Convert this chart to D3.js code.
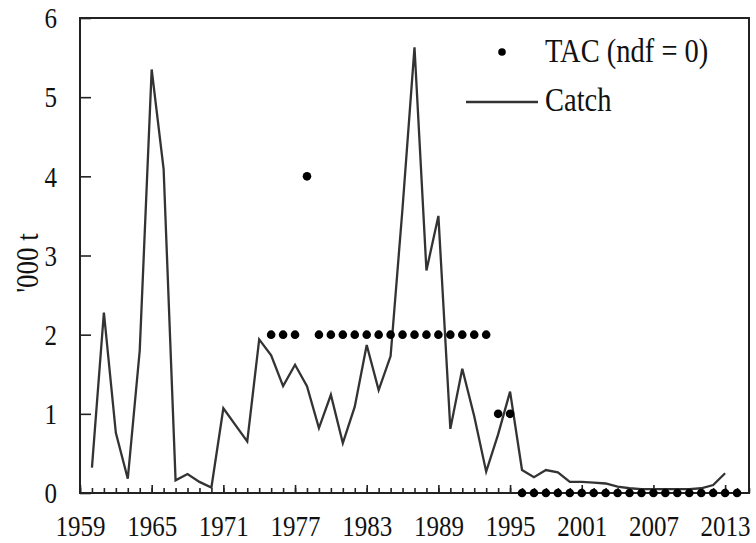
<!DOCTYPE html>
<html lang="en">
<head>
<meta charset="UTF-8"/>
<title>Catch and TAC</title>
<script type="text/javascript" src="https://cdn.jsdelivr.net/npm/d3@7/dist/d3.min.js"></script>
<style>
body {
  margin: 0;
  background: #fff;
}
svg text {
  fill: #111;
}
.axis path {
  display: none;
}
.axis line {
  stroke: #222;
  stroke-width: 1.6px;
}
/* the source figure has slightly tall type */
.tall {
  transform-box: fill-box;
  transform-origin: center;
  transform: scaleY(1.2);
}
.tall2 {
  transform-box: fill-box;
  transform-origin: center;
  transform: scaleY(1.15);
}
</style>
</head>
<body>
<svg id="viz"></svg>

<script type="text/javascript">
var width = 756,
	height = 543;

// catch, '000 t
var catchYears = d3.range(1960, 2014);
var catchValues = [0.32, 2.28, 0.76, 0.18, 1.8, 5.35, 4.09, 0.16, 0.24, 0.14,
	0.07, 1.07, 0.86, 0.65, 1.94, 1.74, 1.35, 1.62, 1.35, 0.82,
	1.24, 0.63, 1.09, 1.87, 1.30, 1.73, 3.6, 5.63, 2.81, 3.50,
	0.81, 1.57, 0.97, 0.27, 0.74, 1.28, 0.29, 0.20, 0.29, 0.26,
	0.14, 0.14, 0.13, 0.12, 0.08, 0.06, 0.05, 0.05, 0.05, 0.05,
	0.05, 0.06, 0.10, 0.25];

// TAC (ndf = 0)
var tacYears = d3.range(1975, 1978).concat([1978], d3.range(1979, 1994), [1994, 1995], d3.range(1996, 2015));
var tacValues = [2, 2, 2, 4, 2, 2, 2, 2, 2, 2, 2, 2, 2, 2, 2, 2, 2, 2, 2, 1, 1,
	0, 0, 0, 0, 0, 0, 0, 0, 0, 0, 0, 0, 0, 0, 0, 0, 0, 0, 0];

var yTicks = [0, 1, 2, 3, 4, 5, 6];
var xLabelYears = d3.range(1959, 2014, 6);

var serif = "'Liberation Serif', 'Times New Roman', serif";

var svg = d3.select("#viz")
	.attr("width", width)
	.attr("height", height);

var x = d3.scaleLinear().domain([1959, 2015]).range([80, 749]);
var y = d3.scaleLinear().domain([0, 6]).range([493, 18]);

// minor year ticks
svg.append("g")
	.attr("class", "axis")
	.attr("transform", "translate(0," + y(0) + ")")
	.call(d3.axisBottom(x)
		.tickValues(d3.range(1959, 2016))
		.tickSize(-5)
		.tickFormat(""));

// major ticks + labels
svg.append("g")
	.attr("class", "axis")
	.attr("transform", "translate(0," + y(0) + ")")
	.call(d3.axisBottom(x)
		.tickValues(xLabelYears)
		.tickSize(-8)
		.tickPadding(24)
		.tickFormat(d3.format("d")))
	.attr("font-family", serif)
	.selectAll("text")
	.attr("class", "tall")
	.style("font-size", "25px");

svg.append("g")
	.attr("class", "axis")
	.attr("transform", "translate(" + x(1959) + ",0)")
	.call(d3.axisLeft(y)
		.tickValues(yTicks)
		.tickSize(-11)
		.tickPadding(23)
		.tickFormat(d3.format("d")))
	.attr("font-family", serif)
	.selectAll("text")
	.attr("class", "tall")
	.style("font-size", "25px");

// frame
svg.append("rect")
	.attr("x", x(1959))
	.attr("y", y(6))
	.attr("width", x(2015) - x(1959))
	.attr("height", y(0) - y(6))
	.attr("fill", "none")
	.attr("stroke", "#222")
	.attr("stroke-width", 2);

svg.append("text")
	.attr("transform", "translate(38,263) rotate(-90) scale(1,1.2)")
	.attr("text-anchor", "middle")
	.attr("font-family", serif)
	.style("font-size", "27px")
	.text("'000 t");

var line = d3.line()
	.x(function(d, i) { return x(catchYears[i]); })
	.y(function(d) { return y(d); });

svg.append("path")
	.datum(catchValues)
	.attr("d", line)
	.attr("fill", "none")
	.attr("stroke", "#333")
	.attr("stroke-width", 2.3)
	.attr("stroke-linejoin", "miter");

svg.append("g")
	.selectAll("circle")
	.data(tacValues)
	.enter()
	.append("circle")
	.attr("cx", function(d, i) { return x(tacYears[i]); })
	.attr("cy", function(d) { return y(d); })
	.attr("r", 4.3)
	.attr("fill", "#000");

// legend
var legend = svg.append("g").attr("font-family", serif);
legend.append("circle")
	.attr("cx", 502)
	.attr("cy", 52)
	.attr("r", 3.8)
	.attr("fill", "#000");
legend.append("text")
	.attr("class", "tall2")
	.attr("x", 545)
	.attr("y", 61)
	.style("font-size", "28.5px")
	.text("TAC (ndf = 0)");
legend.append("line")
	.attr("x1", 466)
	.attr("x2", 538)
	.attr("y1", 102)
	.attr("y2", 102)
	.attr("stroke", "#333")
	.attr("stroke-width", 2.3);
legend.append("text")
	.attr("class", "tall2")
	.attr("x", 545)
	.attr("y", 110)
	.style("font-size", "28.5px")
	.text("Catch");
</script>
</body>
</html>
